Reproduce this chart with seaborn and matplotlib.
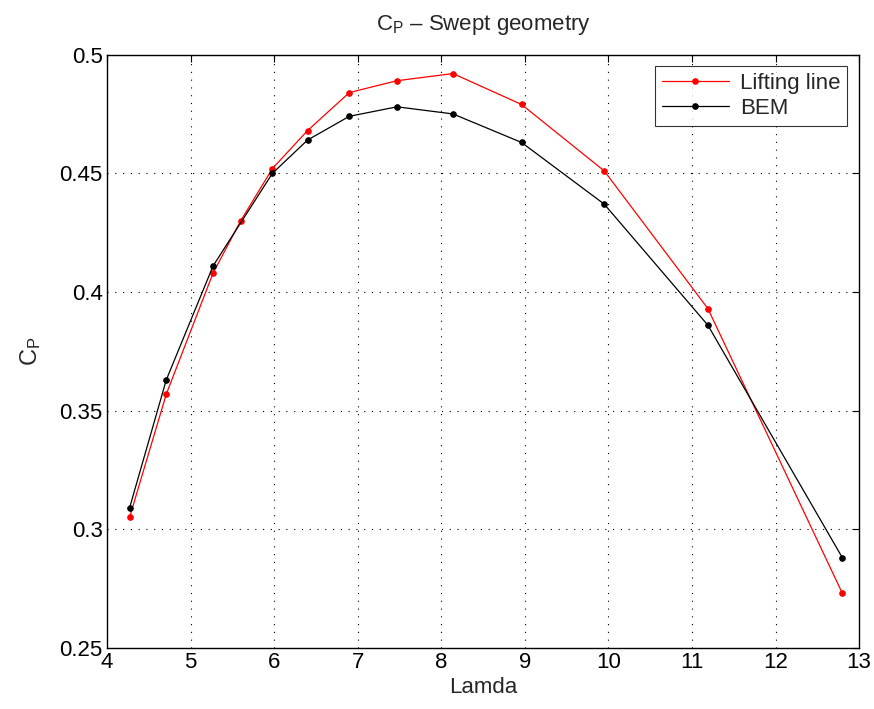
import numpy as np
import pandas as pd
import matplotlib
matplotlib.use("Agg")
import matplotlib.pyplot as plt
import seaborn as sns

# values
lam_ll = [4.27, 4.71, 5.27, 5.60, 5.98, 6.40, 6.90, 7.47, 8.14, 8.96, 9.95, 11.19, 12.80]
cp_ll = [0.305, 0.357, 0.408, 0.430, 0.452, 0.468, 0.484, 0.489, 0.492, 0.479, 0.451, 0.393, 0.273]
lam_bem = [4.27, 4.71, 5.27, 5.98, 6.40, 6.90, 7.47, 8.14, 8.96, 9.95, 11.19, 12.80]
cp_bem = [0.309, 0.363, 0.411, 0.450, 0.464, 0.474, 0.478, 0.475, 0.463, 0.437, 0.386, 0.288]

xticks = [4, 5, 6, 7, 8, 9, 10, 11, 12, 13]
yticks = [0.25, 0.3, 0.35, 0.4, 0.45, 0.5]
ytick_labels = ["0.25", "0.3", "0.35", "0.4", "0.45", "0.5"]

sns.set_style("white")
plt.rcParams["font.family"] = ["Liberation Sans", "DejaVu Sans"]
plt.rcParams["mathtext.fontset"] = "custom"
plt.rcParams["mathtext.rm"] = "Liberation Sans"
plt.rcParams["mathtext.it"] = "Liberation Sans"

fig = plt.figure(figsize=(8.74, 7.09), dpi=100)
ax = fig.add_axes([0.1224, 0.086, 0.8606, 0.837])

sns.lineplot(x=lam_ll, y=cp_ll, ax=ax, color="red", marker="o", markersize=4,
             markeredgecolor="red", linewidth=0.9, label="Lifting line")
sns.lineplot(x=lam_bem, y=cp_bem, ax=ax, color="black", marker="o", markersize=4,
             markeredgecolor="black", linewidth=0.9, label="BEM")

ax.set_xlim(4, 13)
ax.set_ylim(0.25, 0.5)
ax.set_xticks(xticks)
ax.set_yticks(yticks)
ax.set_yticklabels(ytick_labels)
ax.tick_params(direction="in", length=5, width=0.8, top=True, right=True,
               labelsize=16, pad=3, colors="black")
for s in ax.spines.values():
    s.set_visible(True)
    s.set_color("black")
    s.set_linewidth(1.0)

ax.grid(True, color="black", linestyle=(0, (1, 6)), linewidth=0.8)

ax.set_xlabel("Lamda", fontsize=16, labelpad=3)
ax.set_ylabel(r"$\mathrm{C_P}$", fontsize=17, labelpad=12)
ax.set_title(r"$\mathrm{C_P}$ – Swept geometry", fontsize=16, pad=18)

leg = ax.legend(loc="upper right", bbox_to_anchor=(0.984, 0.9806), borderaxespad=0,
                fontsize=16, frameon=True, fancybox=False, handlelength=3.0,
                handletextpad=0.5, borderpad=0.3, labelspacing=0.2)
leg.get_frame().set_edgecolor("black")
leg.get_frame().set_linewidth(0.8)

fig.savefig("out.png", dpi=100)
